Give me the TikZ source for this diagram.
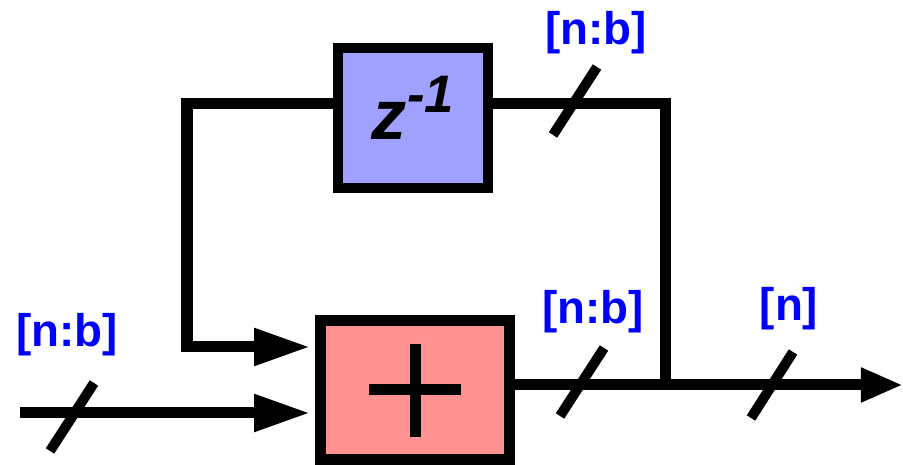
\documentclass[tikz,border=0pt]{standalone}
\usepackage{fontspec}
\setmainfont{Liberation Sans}
\usetikzlibrary{arrows.meta}
\definecolor{delayfill}{RGB}{160,160,255}
\definecolor{addfill}{RGB}{255,145,145}
\begin{document}
\begin{tikzpicture}[x=0.01cm,y=-0.01cm,
  wire/.style={line width=0.11cm,line join=miter},
  arrowin/.style={-{Triangle[length=0.56cm,width=0.35cm]},shorten >=0.05cm},
  arrowout/.style={-{Triangle[length=0.42cm,width=0.32cm]}},
  slash/.style={line width=0.1cm},
  block/.style={draw,line width=0.105cm,inner sep=0pt},
  bus label/.style={text=blue,font=\fontsize{13}{15}\selectfont\bfseries}]

  \useasboundingbox (0,0) rectangle (903,465);

  \node[block,fill=delayfill,minimum width=1.5cm,minimum height=1.4cm,
    font=\fontsize{20}{24}\selectfont\bfseries\itshape] (delay) at (413,118)
    {\raisebox{-0.22cm}[0pt][0pt]{z\raisebox{0.27cm}{\fontsize{15}{15}\selectfont-1}}};
  \node[block,fill=addfill,minimum width=1.89cm,minimum height=1.39cm] (add) at (415,390) {};
  \draw[line width=0.11cm] (add.center) ++(-46,0) -- ++(92,0);
  \draw[line width=0.11cm] (add.center) ++(0,-46) -- ++(0,93);

  \coordinate (in) at (20,413);
  \coordinate (fbl) at (187,104);
  \coordinate (up) at (187,347);
  \coordinate (fbr) at (665,104);
  \coordinate (tap) at (665,385);
  \coordinate (out) at (903,385);

  \draw[wire,arrowin] (in) -- (in -| add.west);
  \draw[wire,arrowin] (delay.west |- fbl) -- (fbl) -- (up) -- (up -| add.west);
  \draw[wire] (add.east |- tap) -- (tap) -- (fbr) -- (delay.east |- fbr);
  \draw[wire,arrowout] (tap) -- (out);

  \draw[slash] (72,417) ++(-22,34) -- ++(44,-68);
  \draw[slash] (575,101) ++(-22,34) -- ++(44,-68);
  \draw[slash] (582,382) ++(-22,34) -- ++(44,-68);
  \draw[slash] (772,385) ++(-21,33) -- ++(42,-66);

  \node[bus label] (lin) at (67,335) {[n:b]};
  \node[bus label] (ltop) at (596,33) {[n:b]};
  \node[bus label] (lsum) at (593,312) {[n:b]};
  \node[bus label] (lout) at (789,309) {[n]};
\end{tikzpicture}
\end{document}
